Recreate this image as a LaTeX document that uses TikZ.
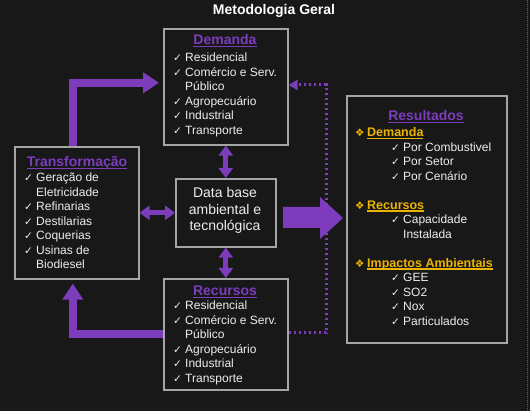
\documentclass[tikz,border=0pt]{standalone}
\usepackage{fontspec}
\setmainfont{Liberation Sans}
\newfontfamily\dejavu{DejaVu Sans}
\usetikzlibrary{arrows.meta}
\definecolor{bg}{RGB}{24,24,24}
\definecolor{pur}{RGB}{124,60,188}
\definecolor{ylw}{RGB}{235,180,0}
\definecolor{gry}{RGB}{165,165,165}
\definecolor{txt}{RGB}{238,238,238}
\definecolor{edge}{RGB}{95,95,95}
\newcommand\ck{\makebox[12pt][l]{\dejavu\fontsize{10.5}{10}\selectfont ✓}}
\newcommand\bul{\makebox[12pt][l]{\color{ylw}\dejavu\fontsize{10.5}{10}\selectfont ❖}}
\newcommand\myul[1]{\setbox0\hbox{#1}\rlap{\rule[-2.2pt]{\wd0}{1.2pt}}\box0}
\newcommand\yh[1]{{\color{ylw}\bfseries\fontsize{12.5}{14.5}\selectfont\myul{#1}}}
\begin{document}
\begin{tikzpicture}[x=1pt,y=-1pt,
  box/.style={draw=gry,line width=1.6pt,fill=bg,inner sep=0,anchor=north west},
  lst/.style={inner sep=0,text=txt,font=\fontsize{12}{14.5}\selectfont,anchor=base west},
  ttl/.style={inner sep=0,text=pur,font=\bfseries\fontsize{14}{16}\selectfont,anchor=base},
  thickarr/.style={draw=pur,line width=8pt,line join=miter,-{Triangle[width=20pt,length=16pt]}},
  dblarr/.style={draw=pur,line width=5pt,{Triangle[width=14pt,length=10pt]}-{Triangle[width=14pt,length=10pt]}},
  dotarr/.style={draw=pur,line width=3pt,dash pattern=on 2.5pt off 2.5pt,-{Triangle[width=10pt,length=9pt]}}]
\fill[bg] (0,0) rectangle (530,411);
\useasboundingbox (0,0) rectangle (530,411);
\draw[edge,line width=1pt,dash pattern=on 1pt off 1pt] (527,0) -- (527,411);

% title
\node[inner sep=0,anchor=base,text=white,font=\bfseries\fontsize{14}{16}\selectfont] (title) at (274,15) {Metodologia Geral};

% boxes
\node[box,minimum width=124pt,minimum height=116pt] (dem) at (163,28) {};
\node[box,minimum width=124pt,minimum height=132pt] (trf) at (14,146) {};
\node[box,minimum width=100pt,minimum height=68pt] (db) at (175,178) {};
\node[box,minimum width=124pt,minimum height=111pt] (rec) at (163,278) {};
\node[box,minimum width=160pt,minimum height=247pt] (res) at (346,95) {};

% Demanda
\node[ttl] (demT) at (225,45) {\myul{Demanda}};
\node[lst] (demL) at (173,62) {\begin{tabular}[t]{@{}l@{}}
\ck Residencial\\
\ck Comércio e Serv.\\
\hspace{12pt}Público\\
\ck Agropecuário\\
\ck Industrial\\
\ck Transporte
\end{tabular}};

% Transformacao
\node[ttl] (trfT) at (77,167) {\myul{Transformação}};
\node[lst] (trfL) at (24,182) {\begin{tabular}[t]{@{}l@{}}
\ck Geração de\\
\hspace{12pt}Eletricidade\\
\ck Refinarias\\
\ck Destilarias\\
\ck Coquerias\\
\ck Usinas de\\
\hspace{12pt}Biodiesel
\end{tabular}};

% Data base
\node[inner sep=0,anchor=base,text=txt,font=\fontsize{14}{16.5}\selectfont] (dbT) at (225,198) {\begin{tabular}[t]{@{}c@{}}Data base\\ ambiental e\\ tecnológica\end{tabular}};

% Recursos
\node[ttl] (recT) at (225,296) {\myul{Recursos}};
\node[lst] (recL) at (173,310) {\begin{tabular}[t]{@{}l@{}}
\ck Residencial\\
\ck Comércio e Serv.\\
\hspace{12pt}Público\\
\ck Agropecuário\\
\ck Industrial\\
\ck Transporte
\end{tabular}};

% Resultados
\node[ttl] (resT) at (426,121) {\myul{Resultados}};
\node[lst] (resL) at (355,137) {\begin{tabular}[t]{@{}l@{}}
\bul\yh{Demanda}\\
\hspace{36pt}\ck Por Combustivel\\
\hspace{36pt}\ck Por Setor\\
\hspace{36pt}\ck Por Cenário\\
\\
\bul\yh{Recursos}\\
\hspace{36pt}\ck Capacidade\\
\hspace{48pt}Instalada\\
\\
\bul\yh{Impactos Ambientais}\\
\hspace{36pt}\ck GEE\\
\hspace{36pt}\ck SO2\\
\hspace{36pt}\ck Nox\\
\hspace{36pt}\ck Particulados
\end{tabular}};

% thick arrows
\draw[thickarr,shorten >=4pt] ([xshift=-4pt]trf.north) |- ([yshift=4pt]dem.west);
\draw[thickarr,shorten >=4pt] (rec.west) -| ([xshift=-4pt]trf.south);

% double arrows
\draw[dblarr] (trf.east) -- (db.west);
\draw[dblarr] (dem.south) -- (db.north);
\draw[dblarr] (db.south) -- (rec.north);

% dotted connector
\coordinate (dt) at (326,85);
\coordinate (db2) at (326,333);
\draw[dotarr] (rec.east |- db2) -- (db2) -- (dt) -- (dem.east |- dt);

% block arrow
\fill[pur] (283,207) -- (320,207) -- (320,197) -- (343,218) -- (320,239) -- (320,228) -- (283,228) -- cycle;
\end{tikzpicture}
\end{document}
